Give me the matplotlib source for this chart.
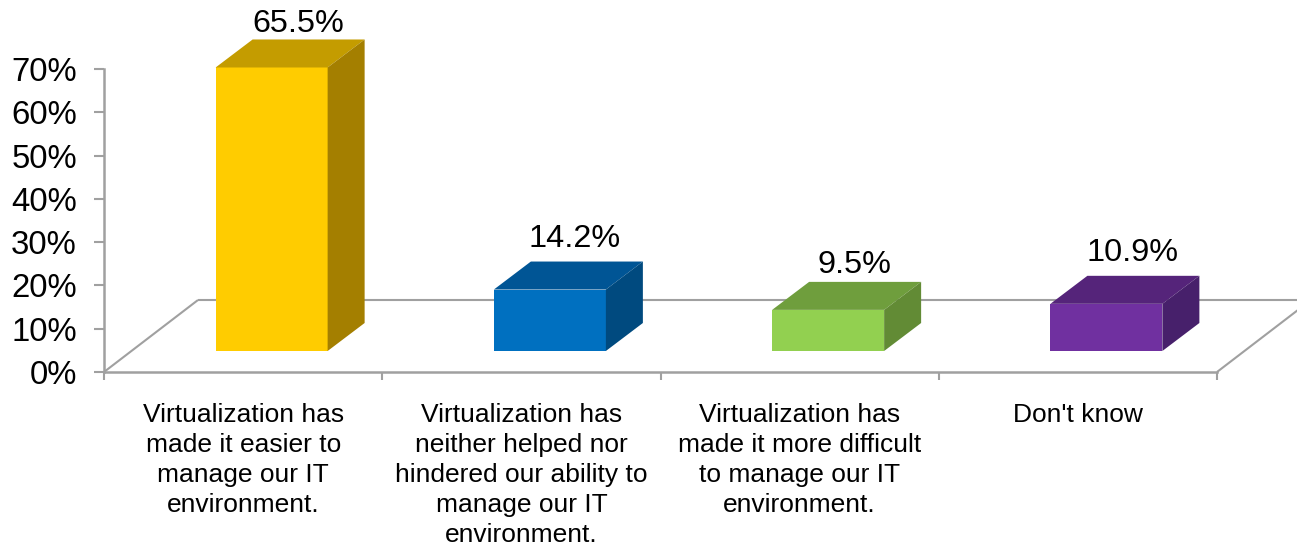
import matplotlib
matplotlib.use('Agg')
import matplotlib.pyplot as plt
from matplotlib.patches import Polygon

plt.rcParams['font.family'] = ['Liberation Sans', 'DejaVu Sans']

categories = ['Virtualization has\nmade it easier to\nmanage our IT\nenvironment.',
              'Virtualization has\nneither helped nor\nhindered our ability to\nmanage our IT\nenvironment.',
              'Virtualization has\nmade it more difficult\nto manage our IT\nenvironment.',
              "Don't know"]
values = [65.5, 14.2, 9.5, 10.9]
value_labels = ['65.5%', '14.2%', '9.5%', '10.9%']
y_ticks = [0, 10, 20, 30, 40, 50, 60, 70]

front_colors = ['#FFCC00', '#0070C0', '#92D050', '#7030A0']
top_colors = ['#C49C00', '#005595', '#6F9E3D', '#55247A']
side_colors = ['#A47F00', '#004A7F', '#628B35', '#47206B']

W, H = 1297, 545
left, right, bottom, top = 104, 1217, 372, 69
px_x = (right - left) / 4
px_y = (bottom - top) / 70

# 3d look, sizes in pixels turned into data units
bar_w = 112 / px_x
bar_shift = 28.5 / px_x
base_y = 21 / px_y
dx = 37 / px_x
dy = 28 / px_y
floor_dx = 94 / px_x
floor_dy = 72 / px_y
label_shift = [27 / px_x, 24.5 / px_x, 26 / px_x, 26 / px_x]
label_pad = [7 / px_y, 15 / px_y, 9 / px_y, 15 / px_y]

fig = plt.figure(figsize=(W / 100, H / 100), dpi=100)
ax = fig.add_axes([left / W, 1 - bottom / H, (right - left) / W, (bottom - top) / H])
ax.set_xlim(0, 4)
ax.set_ylim(0, 70)

grey = '#A0A0A0'
for s in ['top', 'right']:
    ax.spines[s].set_visible(False)
for s in ['left', 'bottom']:
    ax.spines[s].set_color(grey)
    ax.spines[s].set_linewidth(1.8)

# floor
floor_style = dict(color=grey, lw=1.5, clip_on=False, zorder=1, solid_capstyle='butt')
ax.plot([0, floor_dx], [0, floor_dy], **floor_style)
ax.plot([floor_dx, 4 + floor_dx], [floor_dy, floor_dy], **floor_style)
ax.plot([4, 4 + floor_dx], [0, floor_dy], **floor_style)

for i, v in enumerate(values):
    x0 = i + 0.5 + bar_shift - bar_w / 2
    x1 = x0 + bar_w
    y0 = base_y
    y1 = base_y + v
    ax.add_patch(Polygon([(x0, y0), (x1, y0), (x1, y1), (x0, y1)], fc=front_colors[i],
                         ec='none', clip_on=False, zorder=3))
    ax.add_patch(Polygon([(x0, y1), (x1, y1), (x1 + dx, y1 + dy), (x0 + dx, y1 + dy)], fc=top_colors[i],
                         ec='none', clip_on=False, zorder=3))
    ax.add_patch(Polygon([(x1, y0), (x1 + dx, y0 + dy), (x1 + dx, y1 + dy), (x1, y1)], fc=side_colors[i],
                         ec='none', clip_on=False, zorder=3))
    ax.text(i + 0.5 + bar_shift + label_shift[i], y1 + dy + label_pad[i], value_labels[i],
            ha='center', va='baseline', fontsize=23.3, color='black', clip_on=False)

ax.set_yticks(y_ticks)
ax.set_yticklabels([f'{t}%' for t in y_ticks], fontsize=23.7)
ax.tick_params(axis='y', length=7, width=1.5, color=grey, pad=12.5, labelcolor='black')

ax.set_xticks([0, 1, 2, 3, 4])
ax.set_xticklabels([])
ax.tick_params(axis='x', which='major', length=6, width=1.5, color=grey)
ax.set_xticks([0.5, 1.5, 2.5, 3.5], minor=True)
ax.set_xticklabels(categories, minor=True, fontsize=19, linespacing=1.32, va='top')
ax.tick_params(axis='x', which='minor', length=0, pad=22, labelcolor='black')

fig.savefig('out.png', dpi=100)
